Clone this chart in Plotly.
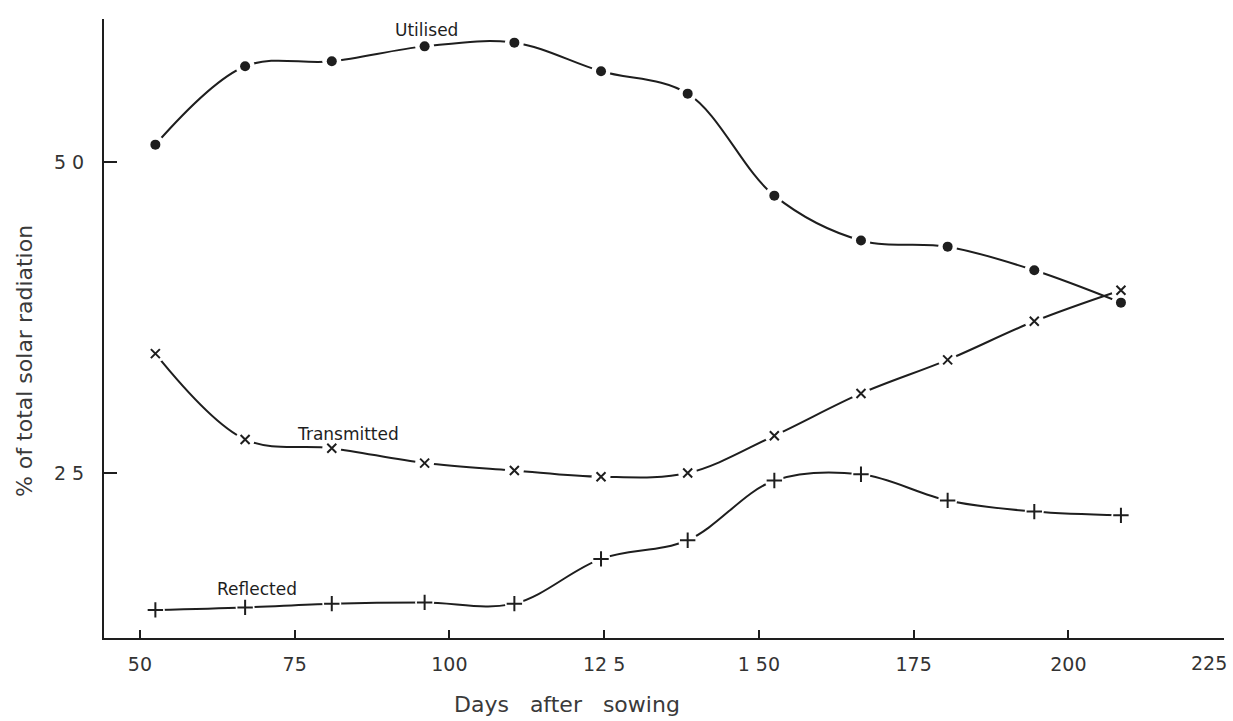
import plotly.graph_objects as go

days = [52.5, 67, 81, 96, 110.5, 124.5, 138.5, 152.5, 166.5, 180.5, 194.5, 208.5]
utilised = [51.4, 57.7, 58.1, 59.3, 59.6, 57.3, 55.5, 47.3, 43.7, 43.2, 41.3, 38.7]
transmitted = [34.6, 27.7, 27.0, 25.8, 25.2, 24.7, 25.0, 28.0, 31.4, 34.1, 37.2, 39.7]
reflected = [14.0, 14.2, 14.5, 14.6, 14.5, 18.1, 19.6, 24.4, 24.9, 22.8, 21.9, 21.6]

x_ticks = [50, 75, 100, 125, 150, 175, 200, 225]
x_ticktext = ["50", "75", "100", "12 5", "1 50", "175", "200", "225"]
y_ticks = [25, 50]
y_ticktext = ["2 5", "5 0"]

series = [
    ("Utilised", utilised, "circle", 10),
    ("Transmitted", transmitted, "x-thin", 9),
    ("Reflected", reflected, "cross-thin", 11),
]

INK = "#1e1e1e"
fig = go.Figure()
for name, vals, sym, size in series:
    fig.add_trace(go.Scatter(x=days, y=vals, mode="lines",
                             line=dict(color=INK, width=2, shape="spline", smoothing=1.0),
                             showlegend=False, hoverinfo="skip"))
for name, vals, sym, size in series:
    fig.add_trace(go.Scatter(x=days, y=vals, mode="markers",
                             marker=dict(symbol="circle", size=19, color="white", line=dict(width=0)),
                             showlegend=False, hoverinfo="skip"))
for name, vals, sym, size in series:
    if sym == "circle":
        mk = dict(symbol=sym, size=size, color=INK, line=dict(width=0))
    else:
        mk = dict(symbol=sym, size=size, color=INK, line=dict(width=2, color=INK))
    fig.add_trace(go.Scatter(x=days, y=vals, mode="markers", name=name, marker=mk, showlegend=False))

label_font = dict(family="DejaVu Sans", size=17, color=INK)
for txt, xa, ya in [("Utilised", 96.3, 60.6), ("Transmitted", 83.6, 28.1), ("Reflected", 68.9, 15.7)]:
    fig.add_annotation(x=xa, y=ya, text=txt, showarrow=False, font=label_font,
                       xanchor="center", yanchor="middle")

title_font = dict(family="DejaVu Sans", size=22, color="#3a3a3a")
fig.add_annotation(xref="paper", yref="paper", x=-0.0705, y=0.4475, text="% of total solar radiation",
                   textangle=-90, showarrow=False, font=title_font, xanchor="center", yanchor="middle")
fig.add_annotation(xref="paper", yref="paper", x=0.413, y=-0.108, text="Days&nbsp;&nbsp; after&nbsp;&nbsp; sowing",
                   showarrow=False, font=title_font, xanchor="center", yanchor="middle")

tick_font = dict(family="DejaVu Sans", size=19, color="#333333")

# the last tick label sits slightly left of its tick in the original; draw it as a text label
shown_ticktext = [t if v != x_ticks[-1] else "" for v, t in zip(x_ticks, x_ticktext)]
fig.add_annotation(x=x_ticks[-1] - 2.3, xref="x", yref="paper", y=-0.0404, text=x_ticktext[-1],
                   showarrow=False, font=tick_font, xanchor="center", yanchor="middle")

fig.update_layout(
    width=1233, height=721,
    margin=dict(l=104, r=9, t=19, b=83),
    paper_bgcolor="white", plot_bgcolor="white",
    xaxis=dict(range=[44.2, 225.15], tickvals=x_ticks, ticktext=shown_ticktext, ticks="inside", ticklen=8,
               tickwidth=1.5, tickcolor=INK, showline=True, linecolor=INK, linewidth=2,
               showgrid=False, zeroline=False, tickfont=tick_font, ticklabelstandoff=8,
               ticklabeloverflow="allow", automargin=False),
    yaxis=dict(range=[11.74, 61.5], tickvals=y_ticks, ticktext=y_ticktext, ticks="inside", ticklen=13,
               tickwidth=1.5, tickcolor=INK, showline=True, linecolor=INK, linewidth=2,
               showgrid=False, zeroline=False, tickfont=tick_font, ticklabelstandoff=14, automargin=False),
)

fig.write_html("out.html", config={"displayModeBar": False},
               post_script="document.body.style.margin='0';document.body.style.overflow='hidden';")
